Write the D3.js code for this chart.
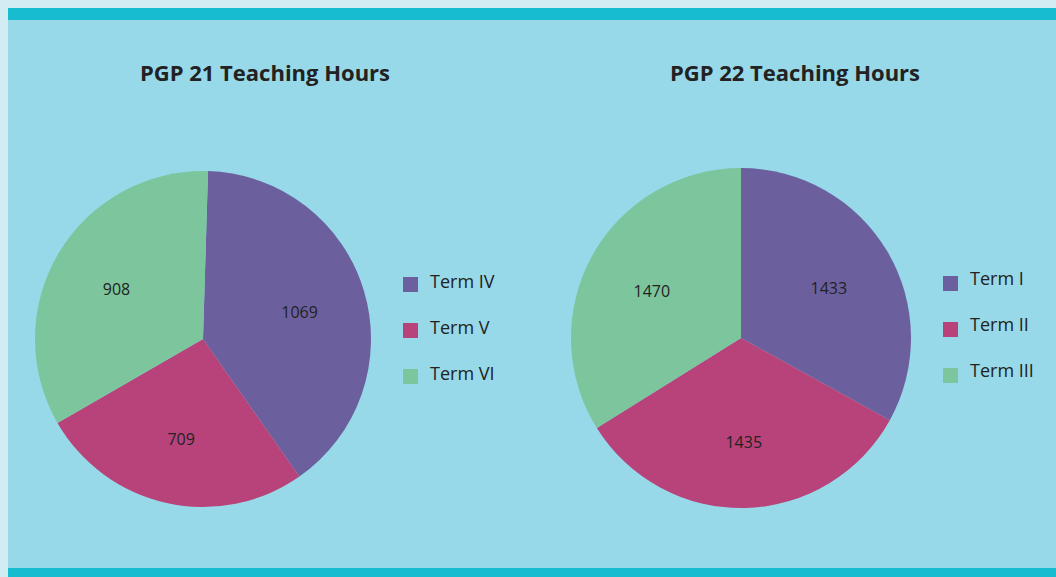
<!DOCTYPE html>
<html>
<head>
<meta charset="utf-8">
<script src="https://cdn.jsdelivr.net/npm/d3@7"></script>
<style>
  body { margin: 0; background: #d2ecf3; }
  svg { display: block; }
</style>
</head>
<body>
<svg id="chart" width="1056" height="577"></svg>
<script>
// Data
const pgp21Terms = ["Term IV", "Term V", "Term VI"];
const pgp21Hours = [1069, 709, 908];
const pgp22Terms = ["Term I", "Term II", "Term III"];
const pgp22Hours = [1433, 1435, 1470];
const sliceColours = ["#6c5f9e", "#b8437a", "#7dc59d"];

const svg = d3.select("#chart");

// Panel background and teal bands
svg.append("rect").attr("x", 8).attr("y", 8).attr("width", 1048).attr("height", 569).attr("fill", "#97d9e8");
svg.append("rect").attr("x", 8).attr("y", 8).attr("width", 1048).attr("height", 12).attr("fill", "#17bcd0");
svg.append("rect").attr("x", 8).attr("y", 568).attr("width", 1048).attr("height", 9).attr("fill", "#17bcd0");

// Draw one pie with title and legend
function drawPie(cfg) {
    const g = svg.append("g");

    g.append("text")
        .attr("x", cfg.titleX)
        .attr("y", 81)
        .attr("text-anchor", "middle")
        .attr("font-family", "Open Sans, sans-serif")
        .attr("font-weight", "bold")
        .attr("font-size", 22)
        .attr("fill", "#222")
        .text(cfg.title);

    const pie = d3.pie().sort(null).value(d => d.value)
        .startAngle(cfg.start).endAngle(cfg.start + 2 * Math.PI);
    const data = cfg.terms.map((t, i) => ({ term: t, value: cfg.values[i] }));
    const arcs = pie(data);

    const arc = d3.arc().innerRadius(0).outerRadius(cfg.r);
    const labelArc = d3.arc().innerRadius(cfg.r * 0.6).outerRadius(cfg.r * 0.6);

    const pieG = g.append("g").attr("transform", "translate(" + cfg.cx + "," + cfg.cy + ")");

    pieG.selectAll("path")
        .data(arcs)
        .enter().append("path")
        .attr("d", arc)
        .attr("fill", (d, i) => sliceColours[i]);

    pieG.selectAll("text")
        .data(arcs)
        .enter().append("text")
        .attr("transform", d => "translate(" + labelArc.centroid(d) + ")")
        .attr("text-anchor", "middle")
        .attr("dy", "0.5em")
        .attr("font-family", "Open Sans, sans-serif")
        .attr("font-size", 16)
        .attr("fill", "#222")
        .text(d => d.data.value);

    // Legend
    const legend = g.selectAll(".legend")
        .data(cfg.terms)
        .enter().append("g")
        .attr("transform", (d, i) => "translate(" + cfg.legendX + "," + (cfg.legendY + i * 46) + ")");

    legend.append("rect")
        .attr("width", 15)
        .attr("height", 15)
        .attr("fill", (d, i) => sliceColours[i]);

    legend.append("text")
        .attr("x", 27)
        .attr("y", 7.5 + cfg.textShift)
        .attr("dy", "0.35em")
        .attr("font-family", "Open Sans, sans-serif")
        .attr("font-size", 18)
        .attr("fill", "#222")
        .text(d => d);
}

drawPie({
    title: "PGP 21 Teaching Hours", titleX: 265,
    terms: pgp21Terms, values: pgp21Hours, start: 0.03,
    cx: 203, cy: 339, r: 168,
    legendX: 403, legendY: 277, textShift: -3
});

drawPie({
    title: "PGP 22 Teaching Hours", titleX: 795,
    terms: pgp22Terms, values: pgp22Hours, start: 0,
    cx: 741, cy: 338, r: 170,
    legendX: 943, legendY: 276, textShift: -5
});
</script>
</body>
</html>
